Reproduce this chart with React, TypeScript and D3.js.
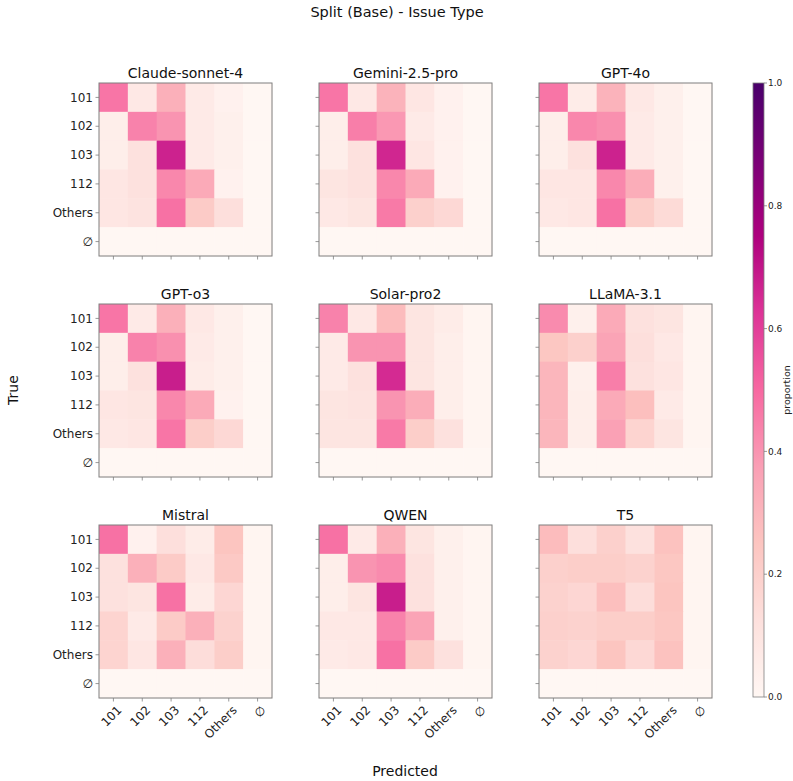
import React from 'react';
import * as d3 from 'd3';

const labels = ['101', '102', '103', '112', 'Others', '∅'];

const models = ['Claude-sonnet-4', 'Gemini-2.5-pro', 'GPT-4o', 'GPT-o3', 'Solar-pro2', 'LLaMA-3.1', 'Mistral', 'QWEN', 'T5'];

// rows = true label, cols = predicted label
const claude = [
  [0.47, 0.08, 0.32, 0.07, 0.03, 0],
  [0.05, 0.44, 0.40, 0.07, 0.04, 0],
  [0.05, 0.12, 0.67, 0.07, 0.04, 0],
  [0.09, 0.12, 0.43, 0.34, 0.03, 0],
  [0.09, 0.11, 0.48, 0.22, 0.13, 0],
  [0, 0, 0, 0, 0, 0],
];
const gemini = [
  [0.47, 0.08, 0.31, 0.09, 0.03, 0],
  [0.05, 0.45, 0.39, 0.07, 0.03, 0],
  [0.05, 0.12, 0.66, 0.09, 0.03, 0],
  [0.10, 0.12, 0.43, 0.34, 0.03, 0],
  [0.08, 0.10, 0.46, 0.20, 0.16, 0],
  [0, 0, 0, 0, 0, 0],
];
const gpt4o = [
  [0.47, 0.06, 0.31, 0.08, 0.04, 0],
  [0.05, 0.43, 0.41, 0.07, 0.04, 0],
  [0.05, 0.12, 0.67, 0.07, 0.04, 0],
  [0.09, 0.09, 0.43, 0.33, 0.04, 0],
  [0.08, 0.09, 0.48, 0.21, 0.15, 0],
  [0, 0, 0, 0, 0, 0],
];
const gpto3 = [
  [0.47, 0.07, 0.32, 0.08, 0.04, 0],
  [0.05, 0.44, 0.41, 0.07, 0.04, 0],
  [0.05, 0.12, 0.68, 0.06, 0.04, 0],
  [0.09, 0.10, 0.43, 0.34, 0.03, 0],
  [0.08, 0.09, 0.47, 0.21, 0.16, 0],
  [0, 0, 0, 0, 0, 0],
];
const solar = [
  [0.44, 0.08, 0.28, 0.10, 0.06, 0.01],
  [0.07, 0.40, 0.40, 0.10, 0.05, 0.01],
  [0.07, 0.12, 0.65, 0.10, 0.05, 0.01],
  [0.10, 0.11, 0.40, 0.33, 0.05, 0.01],
  [0.10, 0.10, 0.46, 0.21, 0.12, 0.01],
  [0, 0, 0, 0, 0, 0],
];
const llama = [
  [0.42, 0.04, 0.34, 0.12, 0.10, 0.01],
  [0.24, 0.20, 0.36, 0.13, 0.08, 0.01],
  [0.30, 0.04, 0.45, 0.12, 0.09, 0.01],
  [0.30, 0.05, 0.34, 0.27, 0.07, 0.01],
  [0.30, 0.05, 0.37, 0.18, 0.10, 0.01],
  [0, 0, 0, 0, 0, 0],
];
const mistral = [
  [0.48, 0.03, 0.13, 0.06, 0.25, 0.01],
  [0.12, 0.32, 0.22, 0.08, 0.23, 0.01],
  [0.12, 0.10, 0.48, 0.06, 0.17, 0.01],
  [0.18, 0.07, 0.22, 0.32, 0.19, 0.01],
  [0.18, 0.09, 0.32, 0.14, 0.21, 0.01],
  [0, 0, 0, 0, 0, 0],
];
const qwen = [
  [0.48, 0.07, 0.32, 0.10, 0.04, 0.01],
  [0.05, 0.40, 0.42, 0.12, 0.04, 0.01],
  [0.05, 0.10, 0.68, 0.12, 0.04, 0.01],
  [0.08, 0.08, 0.44, 0.36, 0.04, 0.01],
  [0.07, 0.08, 0.48, 0.22, 0.12, 0.01],
  [0, 0, 0, 0, 0, 0],
];
const t5 = [
  [0.28, 0.13, 0.20, 0.12, 0.26, 0.01],
  [0.20, 0.21, 0.21, 0.19, 0.24, 0.01],
  [0.19, 0.17, 0.27, 0.14, 0.25, 0.01],
  [0.20, 0.19, 0.21, 0.21, 0.24, 0.01],
  [0.19, 0.17, 0.25, 0.16, 0.26, 0.01],
  [0, 0, 0, 0, 0, 0],
];

const matrices = [claude, gemini, gpt4o, gpto3, solar, llama, mistral, qwen, t5];
const cbTicks = [0, 0.2, 0.4, 0.6, 0.8, 1.0];

// matplotlib RdPu anchor colours (linearly interpolated)
const rdpu = ['#fff7f3', '#fde0dd', '#fcc5c0', '#fa9fb5', '#f768a1', '#dd3497', '#ae017e', '#7a0177', '#49006a'];

const W = 793;
const H = 781;
const panelLefts = [99, 319, 539];
const panelTops = [83, 304, 525];
const size = 173;
const font = 'DejaVu Sans, sans-serif';
const frame = '#7f7f7f';

const color = d3
  .scaleLinear<string>()
  .domain(rdpu.map((_, i) => i / (rdpu.length - 1)))
  .range(rdpu)
  .interpolate(d3.interpolateRgb)
  .clamp(true);

function Panel({ name, data, x0, y0, showY, showX }: any) {
  const band = d3.scaleBand<string>().domain(labels).range([0, size]);
  const bw = band.bandwidth();
  return (
    <g transform={`translate(${x0},${y0})`}>
      {data.map((row: number[], i: number) =>
        row.map((v, j) => (
          <rect
            key={`${i}-${j}`}
            x={band(labels[j])}
            y={band(labels[i])}
            width={bw + 0.5}
            height={bw + 0.5}
            fill={color(v)}
          />
        ))
      )}
      <rect x={0} y={0} width={size} height={size} fill="none" stroke={frame} strokeWidth={1} />
      {labels.map((l) => {
        const c = (band(l) || 0) + bw / 2;
        return (
          <g key={l}>
            <line x1={-3.5} x2={0} y1={c} y2={c} stroke={frame} strokeWidth={0.8} />
            <line x1={c} x2={c} y1={size} y2={size + 3.5} stroke={frame} strokeWidth={0.8} />
            {showY && (
              <text x={-6} y={c} dy="0.35em" textAnchor="end" fontSize={12} fill="#222">
                {l}
              </text>
            )}
            {showX && (
              <text
                transform={`translate(${c + 3},${size + 7}) rotate(-45)`}
                textAnchor="end"
                dy="0.7em"
                fontSize={12}
                fill="#222"
              >
                {l}
              </text>
            )}
          </g>
        );
      })}
      <text x={size / 2} y={-5} textAnchor="middle" fontSize={14} fill="#111">
        {name}
      </text>
    </g>
  );
}

export default function App() {
  const cbX = 753;
  const cbW = 11;
  const cbTop = 83;
  const cbBottom = 697;
  const cbScale = d3.scaleLinear().domain([0, 1]).range([cbBottom, cbTop]);
  const stops = d3.range(0, 1.0001, 0.025);

  return (
    <svg
      width={W}
      height={H}
      style={{ position: 'absolute', left: 0, top: 0, background: '#fff' }}
      fontFamily={font}
    >
      <defs>
        <linearGradient id="cb" x1="0" y1="1" x2="0" y2="0">
          {stops.map((s) => (
            <stop key={s} offset={`${s * 100}%`} stopColor={color(s)} />
          ))}
        </linearGradient>
      </defs>
      <text x={397} y={12} dy="0.35em" textAnchor="middle" fontSize={14.5} fill="#111">
        Split (Base) - Issue Type
      </text>
      {models.map((m, k) => (
        <Panel
          key={m}
          name={m}
          data={matrices[k]}
          x0={panelLefts[k % 3]}
          y0={panelTops[Math.floor(k / 3)]}
          showY={k % 3 === 0}
          showX={k >= 6}
        />
      ))}
      <text transform="translate(13,390) rotate(-90)" textAnchor="middle" dy="0.35em" fontSize={14} fill="#111">
        True
      </text>
      <text x={405} y={771} textAnchor="middle" dy="0.35em" fontSize={14} fill="#111">
        Predicted
      </text>
      <rect x={cbX} y={cbTop} width={cbW} height={cbBottom - cbTop} fill="url(#cb)" stroke={frame} strokeWidth={0.8} />
      {cbTicks.map((t) => (
        <g key={t}>
          <line x1={cbX + cbW} x2={cbX + cbW + 3} y1={cbScale(t)} y2={cbScale(t)} stroke={frame} strokeWidth={0.8} />
          <text x={cbX + cbW + 4} y={cbScale(t)} dy="0.35em" fontSize={9} fill="#222">
            {t.toFixed(1)}
          </text>
        </g>
      ))}
      <text transform="translate(787,390) rotate(-90)" textAnchor="middle" dy="0.35em" fontSize={9.5} fill="#222">
        proportion
      </text>
    </svg>
  );
}
